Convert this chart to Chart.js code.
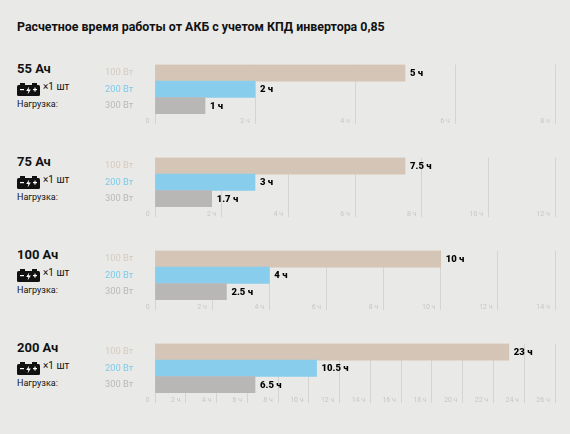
<!DOCTYPE html>
<html>
<head>
<meta charset="utf-8">
<script src="https://cdn.jsdelivr.net/npm/chart.js@4"></script>
<style>
  html, body { margin: 0; padding: 0; background: #e9e9e7; }
  body { width: 570px; height: 434px; position: relative; overflow: hidden; font-family: Roboto, "Noto Sans", sans-serif; color: #111; }
  .title { position: absolute; left: 17px; top: 19px; font-size: 12.4px; font-weight: 700; line-height: 16px; white-space: nowrap; }
  .cap { position: absolute; left: 17px; font-size: 13px; font-weight: 700; line-height: 14px; }
  .bat { position: absolute; left: 17px; }
  .qty { position: absolute; left: 43px; font-size: 10px; line-height: 12px; }
  .load { position: absolute; left: 17px; font-size: 9px; line-height: 11px; }
  canvas { position: absolute; left: 0; }
</style>
</head>
<body>
<div class="title">Расчетное время работы от АКБ с учетом КПД инвертора 0,85</div>
<div id="panels"></div>
<script>
// data
const capacities = ["55 Ач", "75 Ач", "100 Ач", "200 Ач"];
const loads = ["100 Вт", "200 Вт", "300 Вт"];
const hours55 = [5, 2, 1];
const hours75 = [7.5, 3, 1.7];
const hours100 = [10, 4, 2.5];
const hours200 = [23, 10.5, 6.5];
const axisMax = [8, 12, 14, 26];

const allHours = [hours55, hours75, hours100, hours200];
const barColors = ["#d5c5b6", "#88cdeb", "#b8b7b5"];
const loadColors = ["#d6cabd", "#7dcbea", "#b9b9b9"];
const chartTops = [63, 156, 249, 342];

const batterySvg = `<svg width="23" height="13" viewBox="0 0 23 13">
  <rect x="3" y="0" width="5" height="2" fill="#111"/>
  <rect x="15" y="0" width="5" height="2" fill="#111"/>
  <rect x="0" y="2" width="23" height="11" rx="1.5" fill="#111"/>
  <rect x="3" y="6" width="4" height="1.2" fill="#fff"/>
  <rect x="16" y="6" width="4" height="1.2" fill="#fff"/>
  <rect x="17.4" y="4.6" width="1.2" height="4" fill="#fff"/>
  <path d="M12.2 3.6 L9.2 8 L11.4 8 L10.6 11.4 L13.8 6.6 L11.6 6.6 Z" fill="#fff"/>
</svg>`;

// value labels at the end of each bar
const valueLabels = {
    id: "valueLabels",
    afterDatasetsDraw(chart) {
        const { ctx } = chart;
        const meta = chart.getDatasetMeta(0);
        ctx.save();
        ctx.font = "900 9.5px Roboto, sans-serif";
        ctx.fillStyle = "#000";
        ctx.textAlign = "left";
        ctx.textBaseline = "middle";
        meta.data.forEach((bar, i) => {
            const v = chart.data.datasets[0].data[i];
            ctx.fillText(`${v} ч`, bar.x + 5, bar.y + 0.5);
        });
        ctx.restore();
    },
};

const panels = document.getElementById("panels");

allHours.forEach((hours, k) => {
    const top = chartTops[k];
    panels.insertAdjacentHTML("beforeend", `
        <div class="cap" style="top:${top - 1.5}px">${capacities[k]}</div>
        <div class="bat" style="top:${top + 17.5}px">${batterySvg}</div>
        <div class="qty" style="top:${top + 17.5}px">×1 шт</div>
        <div class="load" style="top:${top + 36}px">Нагрузка:</div>`);

    const canvas = document.createElement("canvas");
    canvas.style.top = (top - 4) + "px";
    canvas.style.width = "570px";
    canvas.style.height = "69px";
    panels.appendChild(canvas);

    new Chart(canvas, {
        type: "bar",
        data: {
            labels: loads,
            datasets: [{
                data: hours,
                backgroundColor: barColors,
                borderWidth: 0,
                barPercentage: 1,
                categoryPercentage: 1,
            }],
        },
        options: {
            indexAxis: "y",
            responsive: false,
            animation: false,
            devicePixelRatio: 1,
            layout: { padding: { left: 105, top: 4, right: 15, bottom: 0 } },
            plugins: { legend: { display: false }, tooltip: { enabled: false } },
            scales: {
                y: {
                    afterFit: scale => { scale.width = 50; },
                    grid: { display: false, drawTicks: false },
                    border: { display: false },
                    ticks: {
                        crossAlign: "far",
                        padding: 0,
                        color: ctx => loadColors[ctx.index],
                        font: { family: "Roboto", size: 9.3 },
                    },
                },
                x: {
                    min: 0,
                    max: axisMax[k],
                    afterFit: scale => { scale.height = 14; },
                    grid: { color: "#d4d4d2", lineWidth: 1, tickLength: 10, tickColor: "#d4d4d2" },
                    border: { display: false },
                    ticks: {
                        stepSize: 2,
                        align: "end",
                        padding: -7,
                        maxRotation: 0,
                        autoSkip: false,
                        color: "#c6c6c4",
                        font: { family: "Roboto", size: 7 },
                        callback: v => (v === 0 ? "0" : `${v} ч`) + " \u2002",
                    },
                },
            },
        },
        plugins: [valueLabels],
    });
});
</script>
</body>
</html>
